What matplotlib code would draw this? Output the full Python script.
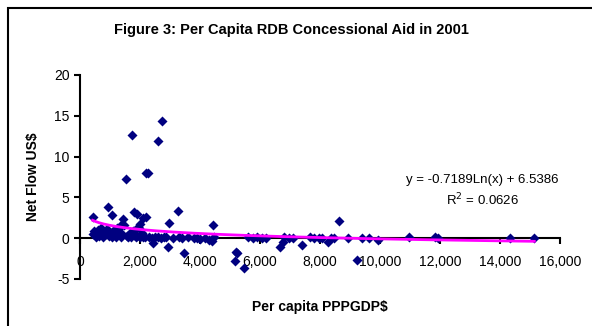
import matplotlib
matplotlib.use("Agg")
import numpy as np
import matplotlib.pyplot as plt
from matplotlib.patches import Rectangle

plt.rcParams['font.family'] = ['Liberation Sans', 'DejaVu Sans']
plt.rcParams['axes.unicode_minus'] = False

# per capita PPP GDP ($) and net concessional flow (US$) by country
gdp = [
    420, 480, 520, 560, 600, 640, 680, 700, 740, 780, 820, 860, 900, 950,
    1000, 1050, 1100, 1150, 1200, 1250, 1300, 1350, 1400, 1480, 1550, 1600,
    1650, 1700, 1750, 1800, 1850, 1900, 1950, 2000, 2050, 2100, 2150,
    444, 922, 1055, 1533, 1722, 1800, 1889, 2200, 2278, 2589, 2744, 2978,
    3256, 1444, 2000, 2111, 2200, 1944, 1389, 1222,
    2444, 2922, 3467, 4444, 5222,
    2300, 2400, 2500, 2600, 2700, 2800, 2850, 3100, 3300, 3400, 3600, 3800,
    3900, 4000, 4150, 4300, 4400, 4450,
    5167, 5189, 5478, 5600, 5750, 5900, 6050, 6200, 6667, 6756, 6800, 6950,
    7100, 7389, 7650, 7800, 7950,
    8050, 8278, 8350, 8450, 8644, 8944, 9244, 9389, 9644, 9944,
    10978, 11833, 11944, 14333, 15144,
]
net_flow = [
    0.5, 0.9, 0.2, 0.7, 1.0, 0.3, 0.6, 1.2, 0.4, 0.1, 0.8, 0.5, 1.1, 0.3,
    0.6, 0.2, 0.9, 0.4, 0.1, 0.7, 1.3, 0.2, 0.5, 1.6, 0.3, 0.1,
    0.6, 0.2, 0.9, 0.4, 0.1, 0.3, 1.2, 0.2, 0.6, 0.1, 0.2,
    2.6, 3.85, 2.8, 7.3, 12.6, 3.2, 3.0, 8.0, 8.0, 11.9, 14.4, 1.9,
    3.3, 2.4, 1.8, 2.45, 2.6, 1.4, 1.8, 1.2,
    -0.6, -1.1, -1.8, 1.6, -1.8,
    0.1, 0.05, 0.15, 0.1, 0.0, 0.2, 0.1, 0.05, 0.1, 0.0, 0.1, 0.05,
    0.0, -0.1, 0.0, -0.2, -0.3, 0.1,
    -2.8, -1.7, -3.6, 0.1, 0.0, 0.1, 0.0, 0.05, -1.07, -0.45, 0.1, 0.0,
    0.05, -0.86, 0.1, 0.0, 0.05,
    0.0, -0.45, 0.05, 0.0, 2.1, 0.0, -2.7, 0.05, 0.0, -0.2,
    0.1, 0.1, 0.0, 0.05, 0.05,
]

# logarithmic trend fitted in the spreadsheet
coef_a, coef_b = -0.7189, 6.5386
r_squared = 0.0626

fig = plt.figure(figsize=(5.92, 3.26), dpi=100)
ax = fig.add_axes([80 / 592, 1 - 279 / 326, 480 / 592, 204 / 326])

ax.scatter(gdp, net_flow, marker='D', s=26, color='#000080', zorder=3,
           linewidths=0)

xs = np.linspace(min(gdp), max(gdp), 400)
ax.plot(xs, coef_a * np.log(xs) + coef_b, color='#FF00FF', lw=2, zorder=4)

ax.set_xlim(0, 16000)
ax.set_ylim(-5, 20)
ax.set_xticks(np.arange(0, 16001, 2000))
ax.set_yticks(np.arange(-5, 21, 5))
ax.set_xticklabels([f"{v:,}" for v in range(0, 16001, 2000)])

for s in ('top', 'right'):
    ax.spines[s].set_visible(False)
ax.spines['bottom'].set_position(('data', 0))
ax.spines['bottom'].set_linewidth(1.5)
ax.spines['left'].set_linewidth(1.5)
ax.tick_params(axis='both', direction='out', length=4, width=1.5,
               labelsize=10)
ax.tick_params(axis='x', pad=8)

ax.set_title("Figure 3: Per Capita RDB Concessional Aid in 2001",
             fontsize=10.5, fontweight='bold', pad=0, y=1.0)
ax.title.set_position((0.44, 1.2))
fig.text(33 / 592, 1 - 177 / 326, "Net Flow US$", rotation=90,
         ha='center', va='center', fontsize=10, fontweight='bold')
fig.text(320 / 592, 1 - 307 / 326, "Per capita PPPGDP$",
         ha='center', va='center', fontsize=10, fontweight='bold')

fig.text(482 / 592, 1 - 180 / 326, "y = -0.7189Ln(x) + 6.5386",
         ha='center', va='center', fontsize=9.5)
fig.text(482 / 592, 1 - 200 / 326, "R$^2$ = " + f"{r_squared:.4f}",
         ha='center', va='center', fontsize=9.5)

# chart-area frame
fig.patches.append(Rectangle((8 / 592, -0.1), 1.2, 1.1 - 7.5 / 326,
                             transform=fig.transFigure, fill=False,
                             edgecolor='black', lw=1.5))

fig.savefig("out.png", dpi=100)
